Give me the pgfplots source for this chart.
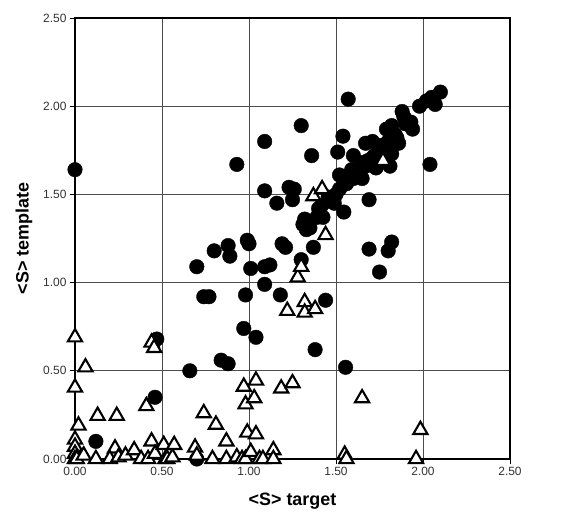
\documentclass[border=0pt]{standalone}
\usepackage{fontspec}
\setmainfont{Liberation Sans}
\usepackage{pgfplots}
\pgfplotsset{compat=1.18}

% circles: filled series, triangles: open series
\pgfplotstableread{
x y
0.00 1.64
0.12 0.10
0.47 0.68
0.46 0.35
0.66 0.50
0.70 1.09
0.70 0.00
0.74 0.92
0.77 0.92
0.80 1.18
0.88 1.21
0.89 1.15
0.84 0.56
0.88 0.54
0.93 1.67
0.97 0.74
0.98 0.93
0.99 1.24
1.00 1.22
1.01 1.08
1.04 0.69
1.09 1.80
1.09 1.52
1.09 0.99
1.09 1.09
1.12 1.10
1.16 1.45
1.18 0.93
1.19 1.22
1.21 1.20
1.23 1.54
1.26 1.53
1.25 1.47
1.30 1.89
1.30 1.13
1.36 1.72
1.32 1.36
1.33 1.30
1.31 1.33
1.35 1.31
1.37 1.20
1.38 0.62
1.44 0.90
1.41 1.38
1.42 1.44
1.40 1.42
1.39 1.37
1.425 1.37
1.455 1.485
1.47 1.47
1.49 1.45
1.50 1.50
1.51 1.74
1.54 1.83
1.57 2.04
1.52 1.61
1.52 1.53
1.545 1.40
1.555 0.52
1.56 1.56
1.58 1.60
1.60 1.72
1.59 1.64
1.60 1.59
1.615 1.625
1.62 1.63
1.63 1.61
1.65 1.68
1.65 1.59
1.67 1.66
1.67 1.79
1.68 1.69
1.69 1.47
1.69 1.19
1.70 1.70
1.71 1.80
1.72 1.72
1.73 1.65
1.74 1.71
1.75 1.06
1.76 1.75
1.77 1.78
1.79 1.87
1.80 1.80
1.80 1.18
1.81 1.66
1.82 1.23
1.82 1.73
1.82 1.89
1.84 1.84
1.85 1.82
1.86 1.79
1.88 1.97
1.89 1.94
1.90 1.90
1.93 1.91
1.94 1.87
1.98 2.00
2.02 2.03
2.04 1.67
2.05 2.05
2.07 2.01
2.10 2.08
}\circles

\pgfplotstableread{
x y
0.00 0.69
0.06 0.52
0.00 0.405
0.02 0.19
0.00 0.11
0.00 0.07
0.00 0.03
0.00 0.00
0.01 0.00
0.05 0.02
0.12 0.00
0.13 0.245
0.24 0.245
0.41 0.30
0.44 0.66
0.455 0.63
0.44 0.10
0.23 0.06
0.20 0.00
0.25 0.01
0.29 0.02
0.34 0.05
0.38 0.00
0.42 0.00
0.46 0.03
0.51 0.08
0.52 0.00
0.53 0.00
0.56 0.01
0.57 0.08
0.69 0.065
0.70 0.02
0.74 0.26
0.81 0.195
0.87 0.10
0.79 0.00
0.87 0.00
0.93 0.01
0.96 0.00
0.98 0.00
0.97 0.41
1.04 0.445
0.98 0.31
1.03 0.345
0.99 0.15
1.04 0.14
1.01 0.04
1.06 0.00
1.08 0.00
1.14 0.05
1.14 0.00
1.185 0.40
1.25 0.43
1.28 1.03
1.30 1.09
1.22 0.84
1.32 0.89
1.32 0.83
1.38 0.85
1.44 1.27
1.37 1.49
1.42 1.53
1.77 1.69
1.65 0.345
1.985 0.165
1.55 0.025
1.56 0.00
1.96 0.00
}\triangles

\begin{document}
\begin{tikzpicture}
\begin{axis}[
    name=ax,
    scale only axis,
    width=435bp, height=441bp,
    xmin=0, xmax=2.5, ymin=0, ymax=2.5,
    xtick distance=0.5, ytick distance=0.5,
    grid=major,
    grid style={line width=0.8bp, black!70},
    axis line style={line width=1.6bp, black},
    tick align=outside,
    major tick length=5bp,
    xtick pos=left, ytick pos=left,
    tick style={line width=0.8bp, black},
    /pgf/number format/assume math mode=true,
    /pgf/number format/.cd, fixed, zerofill, precision=2,
    /pgfplots/.cd,
    ticklabel style={font=\fontsize{12}{12}\selectfont, text=black!80},
    xlabel={\bfseries <S> target},
    ylabel={\bfseries <S> template},
    label style={font=\fontsize{18}{18}\selectfont},
    xlabel style={yshift=-10bp},
    ylabel style={yshift=4bp},
    clip=false,
]
\addplot[only marks, mark=*, mark size=7.3bp, mark options={fill=black, draw=black}]
    table {\circles};
\addplot[only marks, mark=triangle*, mark size=8.2bp,
    mark options={fill=white, draw=black, line width=2.1bp}]
    table {\triangles};
\end{axis}
\path ([xshift=-75bp,yshift=-62bp]ax.south west) rectangle ([xshift=52bp,yshift=18bp]ax.north east);
\end{tikzpicture}
\end{document}
